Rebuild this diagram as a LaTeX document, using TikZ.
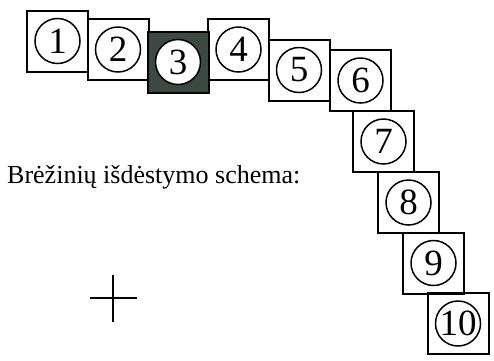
\documentclass[tikz,border=0pt]{standalone}
\usepackage{fontspec}
\setmainfont{Liberation Serif}
\usetikzlibrary{positioning}
\definecolor{darkbox}{RGB}{58,74,66}
\tikzset{
  sheet/.style={draw,line width=2pt,minimum size=61pt,inner sep=0pt,fill=#1},
  sheet/.default={none},
  num/.style={draw,circle,line width=1.5pt,minimum size=45pt,inner sep=0pt,fill=white,font=\fontsize{37}{37}\selectfont},
  lbl/.style={font=\fontsize{26}{30}\selectfont,inner sep=0pt},
}

\begin{document}
\begin{tikzpicture}[x=1pt,y=-1pt]
 \useasboundingbox (0,0) rectangle (494,360);
 % sheets in a chain
 \foreach \n/\x/\y in {1/57.5/41,2/118/49.5,4/238.5/49.5,5/299/70,6/360.5/80.5,7/383.5/141.5,8/408.5/202.5,9/433.5/263,10/458/323.5}{
   \node[sheet] (s\n) at (\x,\y) {};
   \node[num] (c\n) at (s\n) {\n};
 }
 \node[sheet=darkbox] (s3) at (178,62) {};
 \node[num] (c3) at (s3) {3};
 \node[lbl,anchor=base west] (title) at (7,183) {Brėžinių išdėstymo schema:};
 % cross mark
 \draw[line width=1.3pt] (90,298) -- (137,298) (113,275) -- (113,322);
\end{tikzpicture}
\end{document}
